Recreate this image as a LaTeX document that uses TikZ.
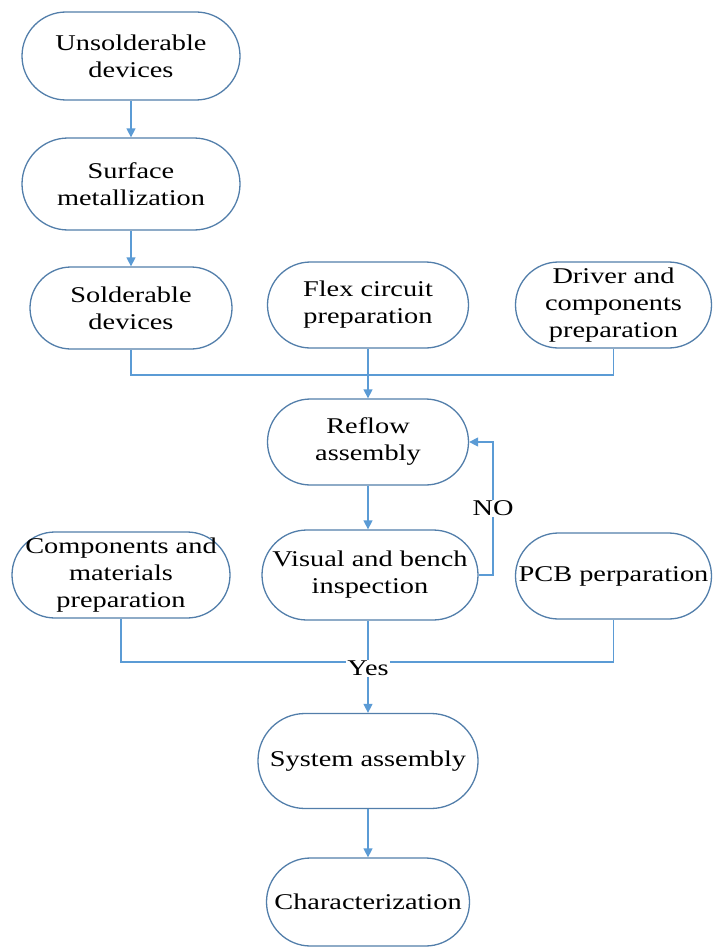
\documentclass[tikz,border=0pt]{standalone}
\usepackage{fontspec}
\setmainfont{Liberation Serif}[FakeStretch=1.26]
\usetikzlibrary{arrows.meta}
\definecolor{nodeborder}{RGB}{82,126,170}
\definecolor{lineblue}{RGB}{91,155,213}
\tikzset{
  proc/.style={draw=nodeborder, line width=1.3pt, fill=white, align=center,
    font=\fontsize{22.5pt}{27pt}\selectfont, inner sep=0pt},
  conn/.style={draw=lineblue, line width=1.4pt},
  arr/.style={conn, -{Triangle[length=9pt,width=9pt]}},
  lab/.style={fill=white, font=\fontsize{22.5pt}{27pt}\selectfont, inner sep=1pt}
}
\begin{document}
\begin{tikzpicture}[x=1pt,y=1pt]
\useasboundingbox (0,0) rectangle (713,-947);
\node[proc, minimum width=218pt, minimum height=88pt, rounded corners=44pt] (U) at (131,-56) {Unsolderable\\devices};
\node[proc, minimum width=218pt, minimum height=92pt, rounded corners=46pt] (S) at (131,-184) {Surface\\metallization};
\node[proc, minimum width=202pt, minimum height=82pt, rounded corners=41pt] (Sol) at (131,-308) {Solderable\\devices};
\node[proc, minimum width=201pt, minimum height=86pt, rounded corners=43pt] (Flex) at (368,-305) {Flex circuit\\preparation};
\node[proc, minimum width=196pt, minimum height=86pt, rounded corners=43pt] (Drv) at (613.5,-305) {Driver and\\components\\preparation};
\node[proc, minimum width=201pt, minimum height=86pt, rounded corners=43pt] (Ref) at (368,-442) {Reflow\\assembly};
\node[proc, minimum width=218pt, minimum height=86pt, rounded corners=43pt] (Comp) at (121,-575) {Components and\\materials\\preparation};
\node[proc, minimum width=216pt, minimum height=90pt, rounded corners=45pt] (Vis) at (370,-575) {Visual and bench\\inspection};
\node[proc, minimum width=196pt, minimum height=86pt, rounded corners=43pt] (PCB) at (613.5,-576) {PCB perparation};
\node[proc, minimum width=220pt, minimum height=95pt, rounded corners=47pt] (Sys) at (368,-761) {System assembly};
\node[proc, minimum width=203pt, minimum height=88pt, rounded corners=44pt] (Chr) at (368,-902) {Characterization};
\coordinate (j1) at (368,-375);
\coordinate (j2) at (368,-662);
\coordinate (nob) at (493,-575);
\draw[arr] (U) -- (S);
\draw[arr] (S) -- (Sol);
\draw[conn] (Sol.south) |- (j1) -| (Drv.south);
\draw[arr] (Flex.south) -- (Ref.north);
\draw[arr] (Ref.south) -- (Ref.south |- Vis.north);
\draw[arr] (Vis.east) -- (nob) |- (Ref.east) node[lab, pos=0.25] {NO};
\draw[conn] (Comp.south) |- (j2) -| (PCB.south);
\draw[arr] (Vis.south -| Sys.north) -- (Sys.north) node[lab, pos=0.52] {Yes};
\draw[arr] (Sys) -- (Chr);
\end{tikzpicture}
\end{document}
